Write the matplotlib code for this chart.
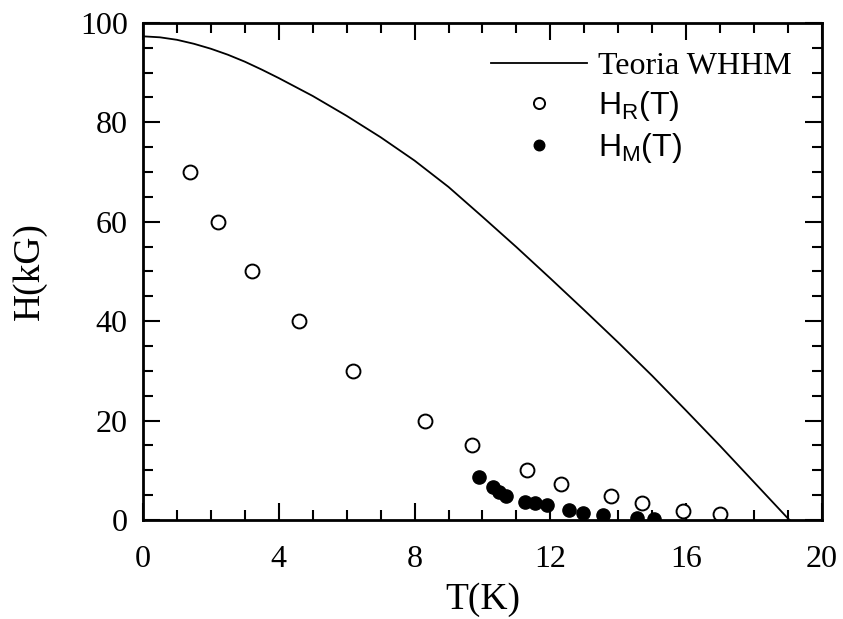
import numpy as np
import matplotlib
matplotlib.use('Agg')
import matplotlib.pyplot as plt
from matplotlib.ticker import MultipleLocator

# curva teorica WHHM (T em K, H em kG)
t_whhm = [0, 0.5, 1, 1.5, 2, 2.5, 3, 3.5, 4, 5, 6, 7, 8, 9, 10, 11, 12, 13, 14, 15,
          16, 17, 18, 19, 19.05]
h_whhm = [97.3, 97.1, 96.6, 95.8, 94.8, 93.6, 92.2, 90.6, 88.9, 85.3, 81.3, 77.0,
          72.3, 67.0, 61.0, 54.9, 48.6, 42.2, 35.7, 29.0, 22.0, 14.9, 7.6, 0.3, 0.0]

# H_R(T) - circulos abertos
t_r = [1.4, 2.2, 3.2, 4.6, 6.2, 8.3, 9.7, 11.3, 12.3, 13.8, 14.7, 15.9, 17.0]
h_r = [70, 60, 50, 40, 30, 20, 15, 10, 7.2, 4.8, 3.5, 1.9, 1.1]

# H_M(T) - circulos cheios
t_m = [9.9, 10.3, 10.5, 10.7, 11.25, 11.55, 11.9, 12.55, 12.95, 13.55, 14.55, 15.05]
h_m = [8.7, 6.7, 5.7, 4.8, 3.7, 3.4, 3.0, 2.0, 1.3, 1.0, 0.3, 0.2]

plt.rcParams['font.family'] = 'Liberation Serif'
plt.rcParams['mathtext.fontset'] = 'custom'
plt.rcParams['mathtext.rm'] = 'Liberation Sans'

fig = plt.figure(figsize=(8.43, 6.19), dpi=100)
ax = fig.add_axes([0.1696, 0.160, 0.8054, 0.803])

ax.plot(t_whhm, h_whhm, color='black', lw=1.3, label='Teoria WHHM')
ax.plot(t_r, h_r, 'o', mfc='white', mec='black', mew=1.4, ms=10, ls='none',
        label=r'H$_\mathrm{R}$(T)')
ax.plot(t_m, h_m, 'o', color='black', ms=9.5, ls='none',
        label=r'H$_\mathrm{M}$(T)')

ax.set_xlim(0, 20)
ax.set_ylim(0, 100)
ax.xaxis.set_major_locator(MultipleLocator(4))
ax.xaxis.set_minor_locator(MultipleLocator(1))
ax.yaxis.set_major_locator(MultipleLocator(20))
ax.yaxis.set_minor_locator(MultipleLocator(5))
ax.tick_params(which='both', direction='in', top=True, right=True, width=1.5)
ax.tick_params(which='major', length=12, labelsize=23)
ax.tick_params(axis='y', which='major', pad=11)
ax.tick_params(axis='x', which='major', pad=18)
ax.tick_params(which='minor', length=7)
for sp in ax.spines.values():
    sp.set_linewidth(2)

ax.set_xlabel('T(K)', fontsize=27, labelpad=6)
ax.set_ylabel('H(kG)', fontsize=27, labelpad=24)

leg = ax.legend(loc='upper right', bbox_to_anchor=(0.998, 1.0), frameon=False,
                fontsize=23, handlelength=3.0, handletextpad=0.35,
                labelspacing=0.25, markerscale=0.8)
texts = leg.get_texts()
texts[1].set_family('Liberation Sans')
texts[2].set_family('Liberation Sans')

plt.savefig('out.png', dpi=100)
